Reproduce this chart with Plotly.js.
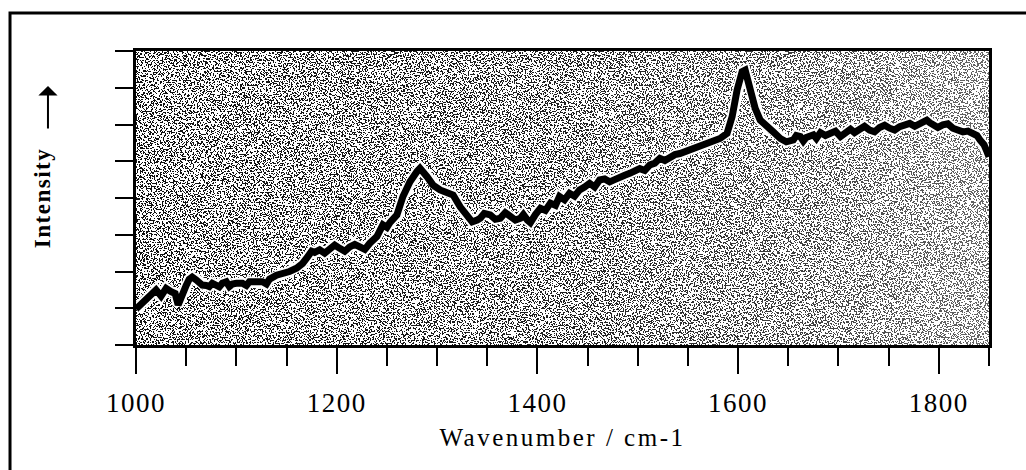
<!DOCTYPE html>
<html>
<head>
<meta charset="utf-8">
<script src="https://cdn.plot.ly/plotly-3.0.1.min.js"></script>
<style>html,body{margin:0;padding:0;background:#fff;}</style>
</head>
<body>
<div id="chart" style="width:1026px;height:470px;"></div>
<script>
// ---- data ----
var wavenumber = [1000,1005,1010,1013,1020,1025,1030,1035,1039,1042,1046,1050,1053,1056,1060,1063,1066,1070,1073,1076,1080,1083,1086,1090,1093,1096,1100,
  1106,1110,1113,1120,1126,1130,1133,1140,1146,1153,1160,1166,1171,1175,1178,1183,1188,1193,1198,1203,1208,1213,1218,1223,1228,1233,1240,1246,
  1250,1253,1260,1266,1273,1280,1283,1290,1296,1303,1310,1316,1323,1330,1335,1340,1343,1347,1353,1358,1363,1368,1373,1378,1383,1386,1390,1393,1398,
  1403,1408,1413,1418,1422,1427,1432,1437,1442,1447,1452,1457,1462,1467,1472,1477,1482,1487,1492,1497,1502,1507,1512,1517,1522,1527,1532,1537,1542,1547,1552,1557,1562,1567,1572,1577,1582,1589,
  1594,1599,1604,1607,1612,1617,1622,1628,1635,1642,1648,1655,1658,1662,1665,1668,1672,1675,1678,1682,1687,1692,1697,1702,1707,1712,1716,1721,
  1726,1731,1736,1741,1746,1751,1756,1761,1766,1771,1776,1781,1788,1791,1794,1799,1804,1809,1814,1819,1824,1829,1834,1838,1841,1845,1848,1850];
var intensity = [0.98,1.10,1.22,1.33,1.50,1.33,1.54,1.45,1.40,1.09,1.40,1.62,1.79,1.85,1.77,1.70,1.63,1.62,1.59,1.68,1.63,1.58,1.68,1.72,1.59,1.66,1.68,
  1.68,1.62,1.72,1.72,1.72,1.66,1.79,1.90,1.93,2.00,2.09,2.22,2.40,2.55,2.52,2.59,2.50,2.63,2.72,2.63,2.55,2.67,2.74,2.67,2.60,2.77,2.95,3.27,
  3.20,3.33,3.54,4.04,4.44,4.72,4.81,4.58,4.35,4.22,4.17,4.08,3.76,3.49,3.35,3.40,3.45,3.58,3.54,3.42,3.45,3.60,3.49,3.40,3.45,3.55,3.40,3.33,3.55,
  3.72,3.66,3.86,3.80,4.04,3.95,4.13,4.05,4.22,4.30,4.40,4.30,4.49,4.52,4.44,4.50,4.58,4.62,4.67,4.72,4.80,4.75,4.90,4.95,5.08,5.02,5.12,5.18,5.21,5.26,5.31,5.36,5.40,5.45,5.51,5.56,5.62,5.76,
  6.21,6.94,7.44,7.48,6.94,6.44,6.12,5.99,5.80,5.62,5.53,5.58,5.70,5.67,5.55,5.65,5.72,5.72,5.62,5.78,5.70,5.76,5.82,5.67,5.75,5.87,5.78,5.87,
  5.95,5.85,5.80,5.92,5.98,5.90,5.85,5.94,6.00,6.03,5.95,6.03,6.12,6.05,5.99,5.92,5.99,6.02,5.90,5.85,5.80,5.82,5.76,5.70,5.58,5.45,5.26,5.12];
var xTickVals = [1000,1200,1400,1600,1800];
var xTickLabels = ['1000','1200','1400','1600','1800'];
var xTitle = 'Wavenumber / cm-1';
var yTitle = 'Intensity';

// ---- stippled background texture (procedural, not data) ----
var texSvg = "<svg xmlns='http://www.w3.org/2000/svg' width='853' height='294'>" +
  "<defs><filter id='f' x='0' y='0' width='1' height='1'>" +
  "<feTurbulence type='fractalNoise' baseFrequency='0.65' numOctaves='2' seed='7'/>" +
  "<feColorMatrix type='matrix' values='0 0 0 0 0  0 0 0 0 0  0 0 0 0 0  -3 0 0 0 1.88'/>" +
  "<feComponentTransfer><feFuncA type='discrete' tableValues='0 1'/></feComponentTransfer>" +
  "</filter>" +
  "<linearGradient id='g' x1='0' x2='1' y1='0' y2='0'>" +
  "<stop offset='0' stop-color='#fff' stop-opacity='0.06'/>" +
  "<stop offset='0.5' stop-color='#fff' stop-opacity='0.12'/>" +
  "<stop offset='0.8' stop-color='#fff' stop-opacity='0.25'/>" +
  "<stop offset='1' stop-color='#fff' stop-opacity='0.4'/></linearGradient></defs>" +
  "<rect width='853' height='294' fill='#fff'/>" +
  "<rect width='853' height='294' fill='#000' filter='url(#f)'/>" +
  "<rect width='853' height='294' fill='url(#g)'/></svg>";
var texUri = 'data:image/svg+xml;charset=utf-8,' + encodeURIComponent(texSvg);

function spaced(t, px) { return '<span style="letter-spacing:' + px + 'px">' + t + '</span>'; }

var serif = 'Liberation Serif, Times New Roman, serif';

var traces = [
  {x: wavenumber, y: intensity, type: 'scatter', mode: 'lines',
   line: {color: '#ffffff', width: 11}, hoverinfo: 'skip'},
  {x: wavenumber, y: intensity, type: 'scatter', mode: 'lines',
   line: {color: '#000000', width: 7}}
];

var layout = {
  width: 1026, height: 470,
  margin: {l: 136, r: 37, t: 51, b: 125, pad: 0},
  paper_bgcolor: '#ffffff',
  plot_bgcolor: 'rgba(0,0,0,0)',
  showlegend: false,
  xaxis: {
    range: [1000, 1850],
    tickmode: 'array', tickvals: xTickVals, ticktext: xTickLabels.map(function(s){return spaced(s, 1.5);}),
    ticks: 'outside', ticklen: 26, tickwidth: 2, tickcolor: '#000',
    ticklabelstandoff: 6,
    minor: {tickmode: 'linear', tick0: 1000, dtick: 50, ticks: 'outside', ticklen: 18, tickwidth: 2, tickcolor: '#000', showgrid: false},
    showline: true, linewidth: 3, linecolor: '#000', mirror: true,
    showgrid: false, zeroline: false,
    tickfont: {family: serif, size: 27, color: '#000'},
    title: {text: spaced(xTitle, 2.5), font: {family: serif, size: 25, color: '#000'}, standoff: 12}
  },
  yaxis: {
    range: [0, 8], tickmode: 'linear', tick0: 0, dtick: 1,
    ticks: 'outside', ticklen: 18, tickwidth: 2, tickcolor: '#000',
    showticklabels: false,
    showline: true, linewidth: 3, linecolor: '#000', mirror: true,
    showgrid: false, zeroline: false,
    title: {text: spaced(yTitle, 1.5), font: {family: serif, size: 23, color: '#000', weight: 'bold'}, standoff: 58}
  },
  images: [{source: texUri, xref: 'paper', yref: 'paper', x: 0, y: 1, sizex: 1, sizey: 1,
            sizing: 'stretch', xanchor: 'left', yanchor: 'top', layer: 'below'}],
  shapes: [{type: 'rect', xref: 'paper', yref: 'paper', x0: -0.1477, x1: 1.05, y0: -0.47, y1: 1.129,
            line: {color: '#000', width: 3}, fillcolor: 'rgba(0,0,0,0)'}],
  annotations: [{xref: 'paper', yref: 'paper', x: -0.1032, y: 0.881, text: '', showarrow: true,
                 ax: 0, ay: 44, arrowhead: 1, arrowsize: 1.6, arrowwidth: 2, arrowcolor: '#000', standoff: 0}]
};

Plotly.newPlot('chart', traces, layout, {displayModeBar: false, staticPlot: true});
</script>
</body>
</html>
